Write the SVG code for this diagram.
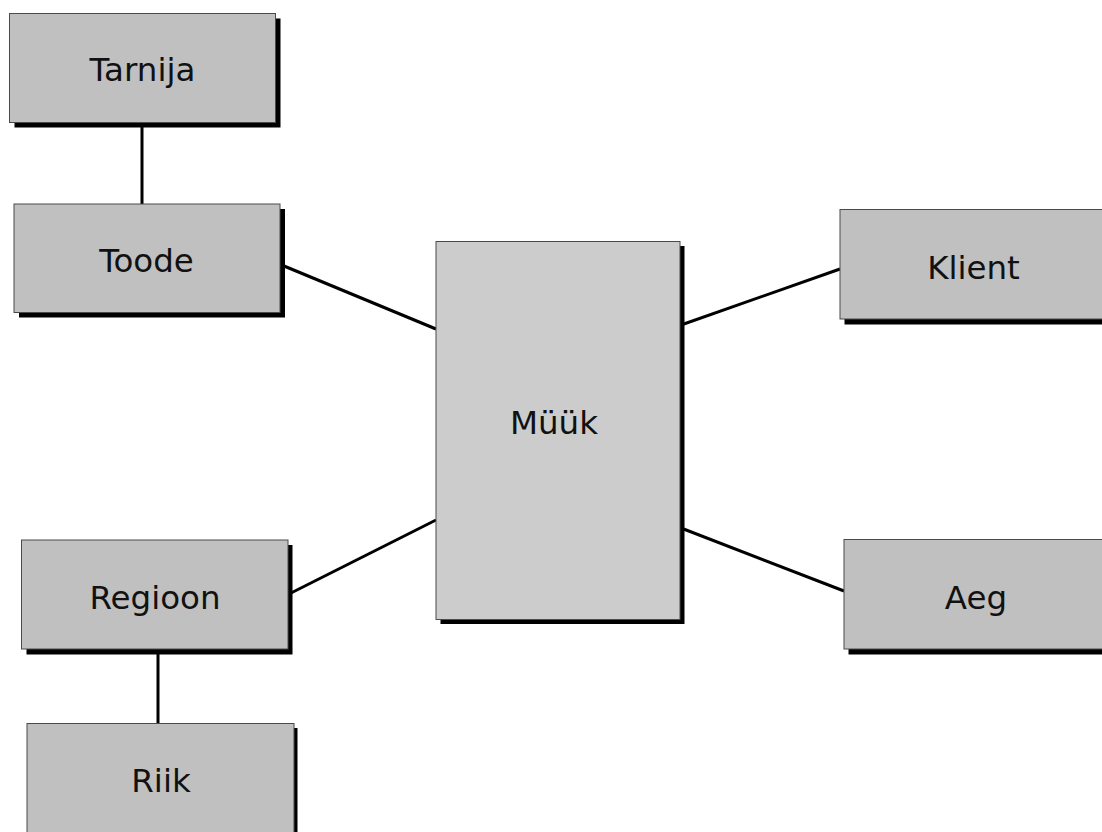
<svg xmlns="http://www.w3.org/2000/svg" width="1102" height="832" viewBox="0 0 1102 832">
<style>
.shadow{fill:#000}
.box{fill:#c0c0c0;stroke:#4a4a4a;stroke-width:1}
.main{fill:#cccccc;stroke:#4a4a4a;stroke-width:1}
.lbl{font-family:"DejaVu Sans",Verdana,sans-serif;font-size:32.5px;fill:#111;text-anchor:middle}
.conn{stroke:#000;stroke-width:3;fill:none}
</style>
<rect width="1102" height="832" fill="#fff"/>
<g id="connectors">
<line class="conn" x1="142" y1="126" x2="142" y2="204"/>
<line class="conn" x1="158" y1="653" x2="158" y2="723"/>
<line class="conn" x1="284" y1="266" x2="436" y2="329"/>
<line class="conn" x1="681" y1="325" x2="840" y2="269"/>
<line class="conn" x1="436" y1="520" x2="291" y2="593"/>
<line class="conn" x1="681" y1="528" x2="844" y2="591"/>
</g>
<g id="tarnija">
<rect class="shadow" x="14.5" y="18.5" width="266" height="109"/>
<rect class="box" x="9.5" y="13.5" width="266" height="109"/>
<text class="lbl" x="142.5" y="81">Tarnija</text>
</g>
<g id="toode">
<rect class="shadow" x="19" y="209" width="266" height="108.5"/>
<rect class="box" x="14" y="204" width="266" height="108.5"/>
<text class="lbl" x="146.5" y="272">Toode</text>
</g>
<g id="myyk">
<rect class="shadow" x="440.5" y="246" width="244" height="378"/>
<rect class="main" x="436" y="241.5" width="244" height="378"/>
<text class="lbl" x="554" y="433.5">Müük</text>
</g>
<g id="klient">
<rect class="shadow" x="844.5" y="214.5" width="270" height="110"/>
<rect class="box" x="840" y="209.5" width="270" height="109.5"/>
<text class="lbl" x="973.5" y="278.5">Klient</text>
</g>
<g id="aeg">
<rect class="shadow" x="848.5" y="544.5" width="270" height="110"/>
<rect class="box" x="844" y="539.5" width="270" height="109.5"/>
<text class="lbl" x="976" y="608.5">Aeg</text>
</g>
<g id="regioon">
<rect class="shadow" x="26.5" y="545" width="266" height="109.5"/>
<rect class="box" x="21.5" y="540" width="266.5" height="109"/>
<text class="lbl" x="155" y="608.5">Regioon</text>
</g>
<g id="riik">
<rect class="shadow" x="31.5" y="728" width="266" height="120"/>
<rect class="box" x="27" y="723.5" width="267" height="120"/>
<text class="lbl" x="161" y="792">Riik</text>
</g>
</svg>
